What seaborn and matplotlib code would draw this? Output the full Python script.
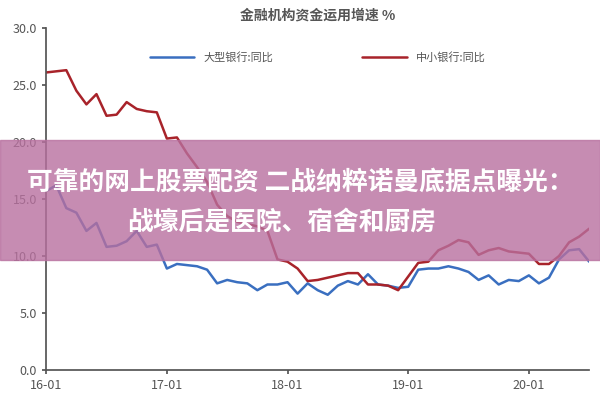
import matplotlib
matplotlib.use("Agg")
import matplotlib.pyplot as plt
import seaborn as sns
import numpy as np
import pandas as pd

months = np.arange(55)
big = [15.7,16.2,14.2,13.8,12.2,12.9,10.8,10.9,11.3,12.2,10.8,11.0,
       8.9,9.3,9.2,9.1,8.8,7.6,7.9,7.7,7.6,7.0,7.5,7.5,
       7.7,6.7,7.6,7.0,6.6,7.4,7.8,7.5,8.4,7.5,7.4,7.2,
       7.3,8.8,8.9,8.9,9.1,8.9,8.6,7.9,8.3,7.5,7.9,7.8,
       8.3,7.6,8.1,9.7,10.5,10.6,9.5]
small = [26.1,26.2,26.3,24.5,23.3,24.2,22.3,22.4,23.5,22.9,22.7,22.6,
         20.3,20.4,19.0,17.8,16.5,14.5,13.5,13.0,12.8,12.6,12.2,9.7,
         9.5,8.9,7.8,7.9,8.1,8.3,8.5,8.5,7.5,7.5,7.4,7.0,
         8.2,9.4,9.5,10.5,10.9,11.4,11.2,10.1,10.5,10.7,10.4,10.3,
         10.2,9.3,9.3,10.0,11.2,11.7,12.4]
tick_labels = ["16-01","17-01","18-01","19-01","20-01"]
names = ["大型银行:同比","中小银行:同比"]

sns.set_theme(style="white")
plt.rcParams['font.family'] = ['Noto Sans CJK SC', 'DejaVu Sans']

df = pd.DataFrame({"m": np.concatenate([months, months]),
                   "v": big + small,
                   "s": [names[0]]*55 + [names[1]]*55})
fig = plt.figure(figsize=(6, 4), dpi=100)
ax = fig.add_axes([0.077, 0.075, 0.905, 0.855])
sns.lineplot(data=df, x="m", y="v", hue="s", palette=["#3a6fc0", "#a8232a"],
             linewidth=1.8, ax=ax)
ax.set_xlim(0, 54)
ax.set_ylim(0, 30)
ax.set_xticks([0, 12, 24, 36, 48], tick_labels)
ax.set_yticks(np.arange(0, 31, 5), [f"{v:.1f}" for v in np.arange(0, 31, 5)])
ax.tick_params(colors="#555555", labelsize=9, length=3, bottom=True, left=True)
ax.set_xlabel(""); ax.set_ylabel("")
for s in ["top", "right"]:
    ax.spines[s].set_visible(False)
for s in ["left", "bottom"]:
    ax.spines[s].set_color("#555555")
ax.set_title("金融机构资金运用增速 %", fontsize=10, color="#555555", fontweight="bold")
ax.legend(loc="upper center", ncol=2, frameon=False, fontsize=8, columnspacing=8,
          bbox_to_anchor=(0.5, 0.96), handlelength=4, labelcolor="#555555")

fig.patches.append(plt.Rectangle((0, 0.35), 1, 0.3, transform=fig.transFigure,
                                 color="#b8709f", alpha=0.8, zorder=5))
fig.text(0.5, 0.545, "可靠的网上股票配资 二战纳粹诺曼底据点曝光：", ha="center", va="center",
         fontsize=18.5, color="white", fontweight="bold", zorder=6)
fig.text(0.212, 0.445, "战壕后是医院、宿舍和厨房", ha="left", va="center",
         fontsize=18.5, color="white", fontweight="bold", zorder=6)
fig.savefig("out.png", dpi=100)
